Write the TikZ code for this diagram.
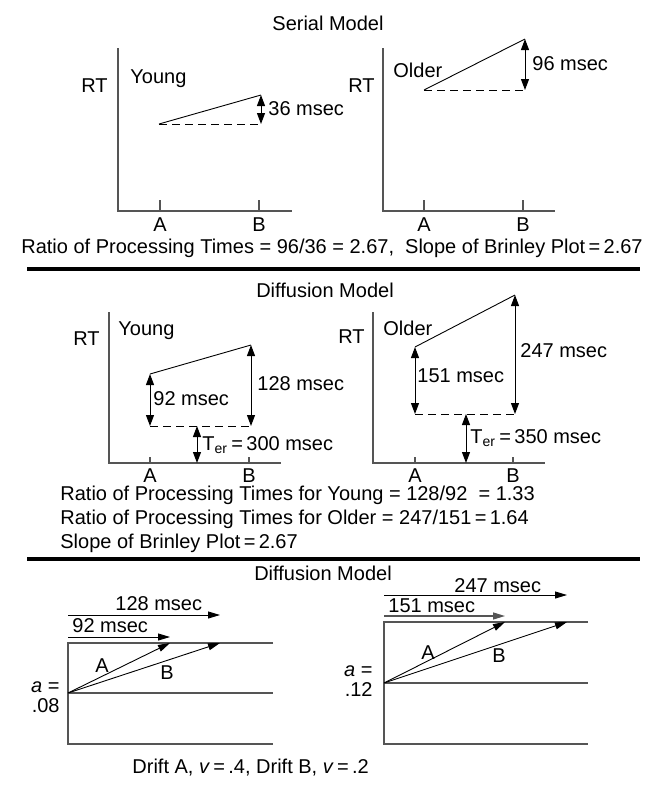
\documentclass[tikz,border=0pt]{standalone}
\usepackage{fontspec}
\setmainfont{Liberation Sans}
\usetikzlibrary{arrows.meta}
\definecolor{axisgray}{HTML}{555555}

\begin{document}
\begin{tikzpicture}[x=0.5pt, y=-0.5pt,
      every node/.style={font=\fontsize{10}{12}\selectfont, inner sep=0pt},
      lbl/.style={anchor=base west},
      axisline/.style={draw=axisgray, line width=0.6pt},
      trend/.style={line width=0.45pt},
      floor/.style={dash pattern=on 4pt off 2.5pt, line width=0.45pt},
      span/.style={{Triangle[length=5.5pt,width=4pt]}-{Triangle[length=5.5pt,width=4pt]}, line width=0.5pt},
      drift/.style={-{Triangle[length=6pt,width=3.5pt]}, line width=0.45pt},
      hrule/.style={line width=1.7pt}]
    \useasboundingbox (0,0) rectangle (667,789);

    % ---- serial model ----
    \node[anchor=base] (sertitle) at (328,30) {Serial Model};

    % young
    \coordinate (sy-top) at (118,48);
    \coordinate (sy-o) at (118,211);
    \coordinate (sy-end) at (292,211);
    \draw[axisline] (sy-top) -- (sy-o) -- (sy-end);
    \foreach \x/\t in {160/A,259/B} {
      \draw[axisline] (\x,200) -- (\x,211);
      \node[anchor=base] (sy-\t) at (\x,231) {\t};
    }
    \node[anchor=base east] (sy-rt) at (108,92) {RT};
    \node[lbl] (sy-name) at (130,83) {Young};
    \coordinate (sy-a) at (159,124);
    \coordinate (sy-b) at (261,95);
    \coordinate (sy-b0) at (261,124);
    \draw[trend] (sy-a) -- (sy-b);
    \draw[floor] (sy-a) -- (sy-b0);
    \draw[span] (sy-b) -- (sy-b0);
    \node[lbl] (sy-diff) at (268,115) {36 msec};

    % older
    \coordinate (so-top) at (383,48);
    \coordinate (so-o) at (383,211);
    \coordinate (so-end) at (555,211);
    \draw[axisline] (so-top) -- (so-o) -- (so-end);
    \foreach \x/\t in {424/A,523/B} {
      \draw[axisline] (\x,200) -- (\x,211);
      \node[anchor=base] (so-\t) at (\x,231) {\t};
    }
    \node[anchor=base east] (so-rt) at (375,92) {RT};
    \node[lbl] (so-name) at (393,77) {Older};
    \coordinate (so-a) at (424,90);
    \coordinate (so-b) at (525,39);
    \coordinate (so-b0) at (525,90);
    \draw[trend] (so-a) -- (so-b);
    \draw[floor] (so-a) -- (so-b0);
    \draw[span] (so-b) -- (so-b0);
    \node[lbl] (so-diff) at (532,70) {96 msec};

    \node[anchor=base] (serratio) at (332,253)
      {Ratio of Processing Times = 96/36 = 2.67,\ \ Slope of Brinley Plot\,=\,2.67};
    \draw[hrule] (27,269) -- (640,269);

    % ---- diffusion model, reaction times ----
    \node[anchor=base] (diftitle) at (325,297) {Diffusion Model};

    % young
    \coordinate (dy-top) at (109,312);
    \coordinate (dy-o) at (109,463);
    \coordinate (dy-end) at (281,463);
    \draw[axisline] (dy-top) -- (dy-o) -- (dy-end);
    \foreach \x/\t in {150/A,249/B} {
      \draw[axisline] (\x,457) -- (\x,463);
      \node[anchor=base] (dy-\t) at (\x,482) {\t};
    }
    \node[anchor=base east] (dy-rt) at (100,345) {RT};
    \node[lbl] (dy-name) at (118,335) {Young};
    \coordinate (dy-a) at (150,374);
    \coordinate (dy-b) at (251,345);
    \coordinate (dy-a0) at (150,426);
    \coordinate (dy-b0) at (251,426);
    \coordinate (dy-t) at (197,426);
    \coordinate (dy-t0) at (197,463);
    \draw[trend] (dy-a) -- (dy-b);
    \draw[floor] (dy-a0) -- (dy-b0);
    \draw[span] (dy-a) -- (dy-a0);
    \draw[span] (dy-b) -- (dy-b0);
    \draw[span] (dy-t) -- (dy-t0);
    \node[lbl] (dy-ta) at (153,405) {92 msec};
    \node[lbl] (dy-tb) at (257,390) {128 msec};
    \node[lbl] (dy-ter) at (202,450) {T\textsubscript{er}\,=\,300 msec};

    % older
    \coordinate (do-top) at (373,312);
    \coordinate (do-o) at (373,463);
    \coordinate (do-end) at (545,463);
    \draw[axisline] (do-top) -- (do-o) -- (do-end);
    \foreach \x/\t in {415/A,513/B} {
      \draw[axisline] (\x,457) -- (\x,463);
      \node[anchor=base] (do-\t) at (\x,482) {\t};
    }
    \node[anchor=base east] (do-rt) at (365,343) {RT};
    \node[lbl] (do-name) at (383,335) {Older};
    \coordinate (do-a) at (415,347);
    \coordinate (do-b) at (515,295);
    \coordinate (do-a0) at (415,414);
    \coordinate (do-b0) at (515,414);
    \coordinate (do-t) at (466,414);
    \coordinate (do-t0) at (466,463);
    \draw[trend] (do-a) -- (do-b);
    \draw[floor] (do-a0) -- (do-b0);
    \draw[span] (do-a) -- (do-a0);
    \draw[span] (do-b) -- (do-b0);
    \draw[span] (do-t) -- (do-t0);
    \node[lbl] (do-ta) at (417,382) {151 msec};
    \node[lbl] (do-tb) at (520,357) {247 msec};
    \node[lbl] (do-ter) at (470,443) {T\textsubscript{er}\,=\,350 msec};

    \node[lbl] (difyoung) at (60,500) {Ratio of Processing Times for Young = 128/92\ \ = 1.33};
    \node[lbl] (difolder) at (60,524) {Ratio of Processing Times for Older = 247/151\,=\,1.64};
    \node[lbl] (difslope) at (60,548) {Slope of Brinley Plot\,=\,2.67};
    \draw[hrule] (27,559) -- (640,559);

    % ---- diffusion model, drift ----
    \node[anchor=base] (drtitle) at (323,580) {Diffusion Model};

    % left, a = .08
    \coordinate (ly-top) at (68,643);
    \coordinate (ly-start) at (68,693);
    \coordinate (ly-bot) at (68,744);
    \draw[axisline] (273,643) -- (ly-top) -- (ly-bot) -- (273,744);
    \draw[axisline] (ly-start) -- (273,693);
    \coordinate (ly-ta) at (170,643);
    \coordinate (ly-tb) at (220,643);
    \draw[drift] (ly-start) -- (ly-ta);
    \draw[drift] (ly-start) -- (ly-tb);
    \node[anchor=base] (ly-A) at (102,672) {A};
    \node[anchor=base] (ly-B) at (167,679) {B};
    \coordinate (ly-ra) at (68,637);
    \coordinate (ly-rb) at (68,615);
    \draw[drift] (ly-ra) -- (170,637);
    \draw[drift] (ly-rb) -- (220,615);
    \node[lbl] (ly-la) at (72,632) {92 msec};
    \node[lbl] (ly-lb) at (115,610) {128 msec};
    \node[anchor=base east] (ly-a) at (60,692) {\textit{a} =};
    \node[anchor=base east] (ly-av) at (60,712) {.08};

    % right, a = .12
    \coordinate (ro-top) at (384,622);
    \coordinate (ro-start) at (384,683);
    \coordinate (ro-bot) at (384,744);
    \draw[axisline] (588,622) -- (ro-top) -- (ro-bot) -- (588,744);
    \draw[axisline] (ro-start) -- (588,683);
    \coordinate (ro-ta) at (505,622);
    \coordinate (ro-tb) at (567,622);
    \draw[drift] (ro-start) -- (ro-ta);
    \draw[drift] (ro-start) -- (ro-tb);
    \node[anchor=base] (ro-A) at (428,659) {A};
    \node[anchor=base] (ro-B) at (499,662) {B};
    \coordinate (ro-ra) at (384,616);
    \coordinate (ro-rb) at (384,595);
    \draw[drift, draw=axisgray, line width=0.7pt] (ro-ra) -- (505,616);
    \draw[drift] (ro-rb) -- (567,595);
    \node[lbl] (ro-la) at (388,612) {151 msec};
    \node[lbl] (ro-lb) at (454,592) {247 msec};
    \node[anchor=base east] (ro-a) at (373,676) {\textit{a} =};
    \node[anchor=base east] (ro-av) at (373,696) {.12};

    \node[lbl] (driftnote) at (132,773) {Drift A, \textit{v}\,=\,.4, Drift B, \textit{v}\,=\,.2};
  \end{tikzpicture}
\end{document}
